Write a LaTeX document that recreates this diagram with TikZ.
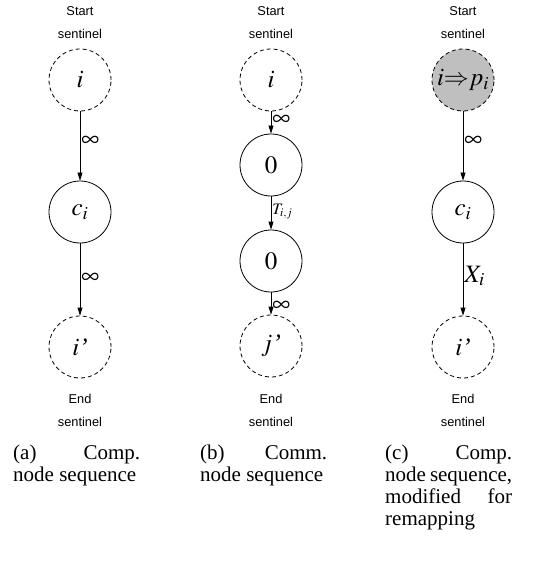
\documentclass[tikz,border=0pt]{standalone}
\usepackage{mathptmx}
\usepackage[no-math]{fontspec}
\setmainfont{Liberation Serif}
\newfontfamily\sentfont{Liberation Sans}
\usetikzlibrary{arrows.meta}
\tikzset{
  vert/.style={circle,draw,line width=0.8pt,minimum size=62pt,inner sep=0pt,
    font=\fontsize{25}{28}\selectfont},
  sentinelnode/.style={vert,dashed,dash pattern=on 4pt off 3pt},
  grayvert/.style={sentinelnode,fill=black!25},
  flow/.style={line width=0.8pt,-{Triangle[length=8pt,width=5pt]}},
  elabel/.style={anchor=west,inner sep=1pt,font=\fontsize{25}{28}\selectfont},
  slabel/.style={align=center,font=\sentfont\fontsize{12.8}{23}\selectfont},
  captionnode/.style={anchor=north west,text width=127pt,align=justify,inner sep=0pt,
    font=\fontsize{21}{21.8}\selectfont}
}
\begin{document}
\begin{tikzpicture}[x=1pt,y=-1pt]
\useasboundingbox (0,0) rectangle (535,569);
% column (a)
\node[slabel] (sa) at (80,23) {Start\\sentinel};
\node[sentinelnode] (ia) at (80,80) {$i$};
\node[vert] (ca) at (80,212) {$c_i$};
\node[sentinelnode] (ea) at (80,347) {$i$\textit{’}};
\node[slabel] (ta) at (80,410) {End\\sentinel};
\draw[flow] (ia) -- node[elabel,pos=0.44] {$\infty$} (ca);
\draw[flow] (ca) -- node[elabel,pos=0.49] {$\infty$} (ea);
% column (b)
\node[slabel] (sb) at (271,23) {Start\\sentinel};
\node[sentinelnode] (ib) at (271,80) {$i$};
\node[vert] (zb1) at (271,165) {$0$};
\node[vert] (zb2) at (271,261) {$0$};
\node[sentinelnode] (eb) at (271,346) {$j$\textit{’}};
\node[slabel] (tb) at (271,410) {End\\sentinel};
\draw[flow] (ib) -- node[elabel,pos=0.4] {$\infty$} (zb1);
\draw[flow] (zb1) -- node[elabel,pos=0.45,font=\fontsize{16}{18}\selectfont] {$T_{i,j}$} (zb2);
\draw[flow] (zb2) -- node[elabel,pos=0.62] {$\infty$} (eb);
% column (c)
\node[slabel] (sc) at (463,23) {Start\\sentinel};
\node[grayvert] (ic) at (463,80) {$i{\Rightarrow}p_i$};
\node[vert] (cc) at (463,212) {$c_i$};
\node[sentinelnode] (ec) at (463,347) {$i$\textit{’}};
\node[slabel] (tc) at (463,410) {End\\sentinel};
\draw[flow] (ic) -- node[elabel,pos=0.44] {$\infty$} (cc);
\draw[flow] (cc) -- node[elabel,pos=0.45] {$X_i$} (ec);
% captions
\node[captionnode] (capa) at (13,445) {(a) Comp.\linebreak node sequence};
\node[captionnode] (capb) at (200,445) {(b) Comm.\linebreak node sequence};
\node[captionnode] (capc) at (385,445) {(c) Comp.\linebreak node sequence,\linebreak modified for\linebreak remapping};
\end{tikzpicture}
\end{document}
